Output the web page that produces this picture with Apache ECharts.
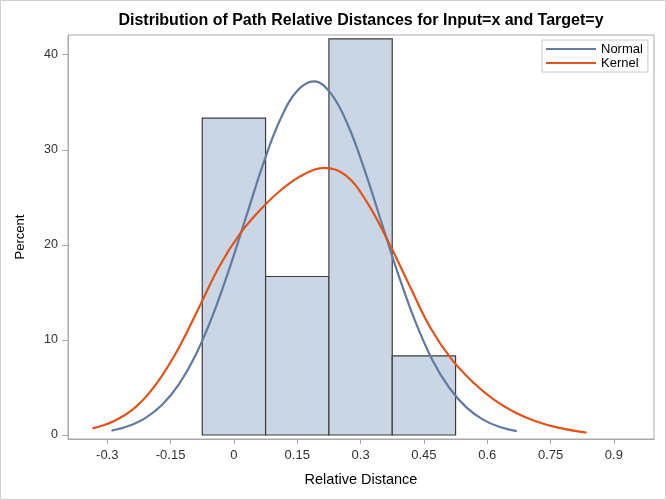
<!DOCTYPE html>
<html>
<head>
<meta charset="utf-8">
<script src="https://cdn.jsdelivr.net/npm/echarts@6/dist/echarts.min.js"></script>
<style>html,body{margin:0;padding:0;background:#fff}#c{width:666px;height:500px}</style>
</head>
<body>
<div id="c"></div>
<script>
// Histogram bins (Relative Distance) and percents
const binStart = [-0.075, 0.075, 0.225, 0.375];
const binEnd = [0.075, 0.225, 0.375, 0.525];
const binPercent = [33.33, 16.67, 41.67, 8.33];

// Normal density curve
const normalX = [-0.29, -0.25, -0.21, -0.17, -0.13, -0.09, -0.05, -0.01, 0.03, 0.07, 0.11, 0.15, 0.19, 0.23, 0.27, 0.31, 0.35, 0.39, 0.43, 0.47, 0.51, 0.55, 0.59, 0.63, 0.67];
const normalY = [0.46, 0.94, 1.78, 3.18, 5.36, 8.47, 12.6, 17.6, 23.1, 28.6, 33.2, 36.2, 37.2, 35.9, 32.6, 27.8, 22.3, 16.8, 11.9, 7.9, 4.97, 2.93, 1.62, 0.84, 0.41];

// Kernel density curve
const kernelX = [-0.335, -0.285, -0.235, -0.185, -0.135, -0.085, -0.035, 0.015, 0.065, 0.115, 0.165, 0.215, 0.265, 0.315, 0.365, 0.415, 0.465, 0.515, 0.565, 0.615, 0.665, 0.715, 0.765, 0.835];
const kernelY = [0.7, 1.45, 2.85, 5.3, 8.8, 13.2, 17.7, 21.2, 23.8, 25.9, 27.4, 28.1, 27.3, 24.5, 20.4, 15.8, 11.3, 8.0, 5.6, 3.75, 2.4, 1.45, 0.8, 0.25];

// Tick labels
const xTicks = [-0.3, -0.15, 0, 0.15, 0.3, 0.45, 0.6, 0.75, 0.9];
const yTicks = [0, 10, 20, 30, 40];

const titleText = 'Distribution of Path Relative Distances for Input=x and Target=y';

const chart = echarts.init(document.getElementById('c'), null, {renderer: 'canvas'});
const font = '"Liberation Sans", Arial, sans-serif';
const txt = '#333333';
const axisCol = '#a8a8a8';

const histData = binStart.map((s, i) => [s, binEnd[i], binPercent[i]]);
const normalData = normalX.map((x, i) => [x, normalY[i]]);
const kernelData = kernelX.map((x, i) => [x, kernelY[i]]);

chart.setOption({
  animation: false,
  backgroundColor: '#ffffff',
  title: {
    text: titleText,
    left: 356, top: 8, textAlign: 'center',
    textStyle: {fontFamily: font, fontSize: 16, fontWeight: 'bold', color: '#000'}
  },
  grid: {
    left: 68, right: 12, top: 35, bottom: 61,
    show: true, borderColor: axisCol, borderWidth: 1, backgroundColor: '#fff'
  },
  legend: {
    orient: 'vertical', left: 542, top: 40,
    padding: [2, 5, 2, 4], itemGap: 0,
    itemWidth: 50, itemHeight: 2, icon: 'rect',
    borderColor: '#c8c8c8', borderWidth: 1, backgroundColor: '#fff',
    textStyle: {fontFamily: font, fontSize: 13, color: '#000', lineHeight: 14},
    data: ['Normal', 'Kernel']
  },
  xAxis: {
    type: 'value', min: -0.393, max: 0.995,
    name: 'Relative Distance', nameLocation: 'middle', nameGap: 33,
    nameTextStyle: {fontFamily: font, fontSize: 14.5, color: '#000'},
    axisLine: {show: true, onZero: false, lineStyle: {color: axisCol}},
    axisTick: {show: true, length: 5, lineStyle: {color: axisCol}, customValues: xTicks},
    axisLabel: {fontFamily: font, fontSize: 13, color: txt, margin: 10, customValues: xTicks,
      formatter: v => String(Math.round(v * 100) / 100)},
    splitLine: {show: false}
  },
  yAxis: {
    type: 'value', min: -0.42, max: 42.07,
    name: 'Percent', nameLocation: 'middle', nameGap: 41,
    nameTextStyle: {fontFamily: font, fontSize: 13, color: '#000'},
    axisLine: {show: true, onZero: false, lineStyle: {color: axisCol}},
    axisTick: {show: true, length: 6, lineStyle: {color: axisCol}, customValues: yTicks},
    axisLabel: {fontFamily: font, fontSize: 12.5, color: txt, margin: 10, customValues: yTicks},
    splitLine: {show: false}
  },
  series: [
    {
      type: 'custom', name: 'hist', z: 1,
      data: histData,
      encode: {x: [0, 1], y: 2},
      renderItem: (params, api) => {
        const p0 = api.coord([api.value(0), 0]);
        const p1 = api.coord([api.value(1), api.value(2)]);
        return {
          type: 'rect',
          shape: {x: p0[0], y: p1[1], width: p1[0] - p0[0], height: p0[1] - p1[1]},
          style: {fill: '#cbd6e5', stroke: '#3c3c3c', lineWidth: 1.2}
        };
      }
    },
    {
      type: 'line', name: 'Normal', data: normalData, smooth: 0.4,
      showSymbol: false, z: 3,
      lineStyle: {color: '#627aa0', width: 2.2}, itemStyle: {color: '#627aa0'}
    },
    {
      type: 'line', name: 'Kernel', data: kernelData, smooth: 0.4,
      showSymbol: false, z: 3,
      lineStyle: {color: '#e0531a', width: 2.2}, itemStyle: {color: '#e0531a'}
    }
  ],
  graphic: [{
    type: 'rect', shape: {x: 0.5, y: 0.5, width: 665, height: 499},
    style: {fill: null, stroke: '#d0d0d0', lineWidth: 1}, silent: true, z: 100
  }]
});
</script>
</body>
</html>
